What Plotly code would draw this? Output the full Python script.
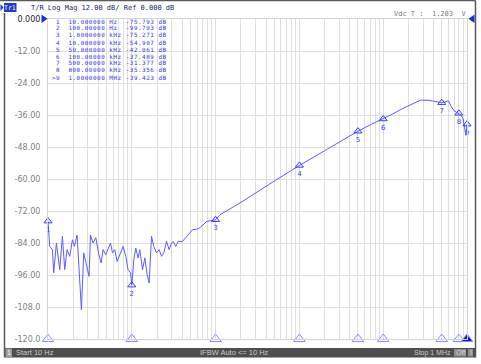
import plotly.graph_objects as go

# ---------------- data ----------------
freq_hz = [
    10, 10.48, 11.29, 11.70, 12.60, 13.80, 14.86, 15.83, 16.87, 18.17, 19.56, 20.68,
    22.21, 23.46, 25.06, 26.70, 28.76, 30.89, 32.11, 34.47, 37.14, 40.03, 42.98,
    45.41, 48.91, 52.12, 55.67, 58.82, 62.66, 66.74, 71.89, 78.75, 84.80, 90.32,
    96.5, 100, 105.7, 111.6, 118.9, 124.6, 134.2, 143.0, 152.3, 160.9, 171.9,
    183.2, 197.3, 212.0, 226.3, 241.2, 259.8, 279.0, 298.1, 311.5, 335.6, 357.5,
    403.4, 450.3, 493.2, 531.2, 592.9, 636.8, 711.0, 780.6, 895.9, 1000,
    1130, 2000, 5000, 10000, 20000, 30000, 50000, 70000, 100000, 130000, 170000,
    220000, 280000, 350000, 400000, 450000, 500000, 550000, 600000, 650000,
    700000, 750000, 800000, 850000, 900000, 940000, 970000, 1000000,
]
mag_db = [
    -75.79, -85.3, -86.5, -95.2, -84.0, -94.0, -81.5, -94.0, -86.5, -89.0, -82.8, -85.3,
    -81.0, -92.7, -109.0, -87.7, -92.7, -96.5, -81.0, -84.0, -82.0, -87.7, -91.5,
    -86.5, -88.4, -85.9, -84.0, -87.7, -86.5, -90.9, -88.4, -85.3, -89.0, -94.0,
    -95.2, -99.79, -90.2, -85.9, -89.6, -86.5, -94.0, -89.6, -95.8, -99.0, -81.5,
    -85.3, -87.7, -86.5, -89.0, -87.7, -83.4, -86.5, -84.0, -83.4, -85.3, -83.4,
    -83.4, -81.5, -80.3, -79.0, -78.8, -78.4, -77.2, -75.9, -75.6, -75.27,
    -73.4, -68.8, -60.8, -54.91, -49.4, -46.1, -42.06, -39.7, -37.49, -35.6, -33.6,
    -32.0, -30.4, -30.5, -30.8, -31.2, -31.38, -31.1, -30.7, -32.9,
    -34.4, -35.0, -35.36, -36.0, -37.5, -41.0, -43.6, -39.42,
]

marker_labels = ["1", "2", "3", "4", "5", "6", "7", "8", "9"]
marker_freq_hz = [10, 100, 1e3, 1e4, 5e4, 1e5, 5e5, 8e5, 1e6]
marker_db = [-75.793, -99.793, -75.271, -54.907, -42.061, -37.489, -31.377, -35.356, -39.423]
marker_freq_text = ["10.000000", "100.00000", "1.0000000", "10.000000", "50.000000",
                    "100.00000", "500.00000", "800.00000", "1.0000000"]
marker_unit = ["Hz", "Hz", "kHz", "kHz", "kHz", "kHz", "kHz", "kHz", "MHz"]

ytick_vals = [-120, -108, -96, -84, -72, -60, -48, -36, -24, -12, 0]
ytick_text = ["-120.0", "-108.0", "-96.00", "-84.00", "-72.00", "-60.00",
              "-48.00", "-36.00", "-24.00", "-12.00",
              "<span style='color:#222222'>0.000</span>"]

header_text = "T/R Log Mag 12.00 dB/ Ref 0.000 dB"
vdc_text = "Vdc T :  1.203  V"
start_text = "Start 10 Hz"
ifbw_text = "IFBW Auto <= 10 Hz"
stop_text = "Stop 1 MHz"

# ---------------- layout helpers ----------------
W, H = 481, 364
L, R, T, B = 48, 467, 19, 339


def px(x):
    return (x - L) / (R - L)


def py(y):
    return (B - y) / (B - T)


NB = "\u00a0"
TRACE = "#5c5cff"
MK = "#3a3aff"
MONO = "DejaVu Sans Mono"

fig = go.Figure()

fig.add_trace(go.Scatter(
    x=freq_hz, y=mag_db, mode="lines",
    line=dict(color=TRACE, width=1), hoverinfo="skip", showlegend=False,
))

# trace markers
fig.add_trace(go.Scatter(
    x=marker_freq_hz, y=marker_db, mode="markers+text",
    marker=dict(symbol="triangle-up-open", size=7, color=MK, line=dict(width=1, color=MK)),
    text=marker_labels, textposition="bottom center",
    textfont=dict(family="DejaVu Sans", size=7, color=MK),
    cliponaxis=False, showlegend=False, hoverinfo="skip",
))

# bottom marker position triangles
bottom_colors = ["rgba(0,0,0,0)"] * (len(marker_freq_hz) - 1) + ["#1010d0"]
fig.add_trace(go.Scatter(
    x=marker_freq_hz, y=[-120] * len(marker_freq_hz), mode="markers",
    marker=dict(symbol="triangle-up", size=10, color=bottom_colors,
                line=dict(width=1, color="#8c8cff")),
    cliponaxis=False, showlegend=False, hoverinfo="skip",
))

# log grid lines
grid_x = [d * 10 ** k for k in range(1, 6) for d in range(1, 10)] + [1e6]

fig.update_xaxes(
    type="log", range=[1, 6], tickvals=grid_x, showticklabels=False,
    showgrid=True, gridcolor="#dedede", gridwidth=1, ticks="",
    showline=True, mirror=True, linecolor="#d4d4d4", zeroline=False,
)
fig.update_yaxes(
    range=[-120, 0], tickvals=ytick_vals, ticktext=ytick_text,
    tickfont=dict(family="DejaVu Sans", size=8, color="#808080"),
    ticks="outside", ticklen=5, tickcolor="rgba(0,0,0,0)",
    showgrid=True, gridcolor="#dedede", gridwidth=1,
    showline=True, mirror=True, linecolor="#d4d4d4", zeroline=False,
)

shapes = []
ann = []

# frame
for x0, y0, x1, y1 in [(0, 0.5, 475.5, 0.5), (475.5, 0.5, 475.5, 357.5), (4.5, 13, 4.5, 357.5)]:
    shapes.append(dict(type="line", xref="paper", yref="paper",
                       x0=px(x0), y0=py(y0), x1=px(x1), y1=py(y1),
                       line=dict(color="#5a5a5a", width=1.5)))

# status bar
shapes.append(dict(type="rect", xref="paper", yref="paper",
                   x0=px(5), y0=py(348), x1=px(475.5), y1=py(357.5),
                   fillcolor="#4e4e4e", line=dict(width=0)))
shapes.append(dict(type="rect", xref="paper", yref="paper",
                   x0=px(5.5), y0=py(348.5), x1=px(12), y1=py(357),
                   fillcolor="#9a9a9a", line=dict(width=0)))
shapes.append(dict(type="rect", xref="paper", yref="paper",
                   x0=px(454), y0=py(349), x1=px(466), y1=py(356.5),
                   fillcolor="#8e8e8e", line=dict(width=0)))
shapes.append(dict(type="rect", xref="paper", yref="paper",
                   x0=px(468), y0=py(349), x1=px(473), y1=py(356.5),
                   fillcolor="#8e8e8e", line=dict(width=0)))

# Tr1 box
shapes.append(dict(type="rect", xref="paper", yref="paper",
                   x0=px(4), y0=py(3), x1=px(16.5), y1=py(12),
                   fillcolor="#1e3cc8", line=dict(width=0)))


def tri(points, color):
    p = "M " + " L ".join(f"{px(a)},{py(b)}" for a, b in points) + " Z"
    return dict(type="path", xref="paper", yref="paper", path=p,
                fillcolor=color, line=dict(width=0))


shapes.append(tri([(0.5, 4), (3.5, 7.5), (0.5, 11)], "#1e3cc8"))
shapes.append(tri([(41.5, 14.5), (47.5, 18.8), (41.5, 23)], "#1030e0"))
shapes.append(tri([(474.5, 14.5), (468.5, 18.8), (474.5, 23)], "#1030e0"))


def text(x, y, s, size=7, color="#000", family=MONO, xanchor="left", yanchor="middle", pad=1):
    ann.append(dict(xref="paper", yref="paper", x=px(x), y=py(y), text=s,
                    showarrow=False, xanchor=xanchor, yanchor=yanchor, borderpad=pad,
                    font=dict(family=family, size=size, color=color)))


text(10.3, 7.8, "Tr1", size=6.5, color="#ffffff", xanchor="center", pad=0)
text(29, 7.8, header_text.replace(" ", NB), size=7, color="#22226e")
text(391.5, 14.5, vdc_text.replace(" ", NB), size=7, color="#7a7a7a")

# marker table
for i in range(len(marker_labels)):
    num = (">" + marker_labels[i]) if i == len(marker_labels) - 1 else (" " + marker_labels[i])
    line = f"{num}  {marker_freq_text[i]} {marker_unit[i]:<3} {marker_db[i]:.3f} dB"
    styled = "<span style='letter-spacing:0.55px'>" + line.replace(" ", NB) + "</span>"
    text(51, 21.5 + i * 7.0, styled, size=5.9, color="#3434e6", pad=0)

# status bar texts
SB = "#c9c9c9"
text(8.7, 352.8, "1", size=7, color="#ffffff", family="Liberation Sans", xanchor="center", pad=0)
text(15, 352.8, start_text, size=7.5, color=SB, family="Liberation Sans", pad=0)
text(234, 352.8, ifbw_text, size=7.5, color=SB, family="Liberation Sans", xanchor="center", pad=0)
text(451.5, 352.8, stop_text, size=7, color=SB, family="Liberation Sans", xanchor="right", pad=0)
text(460, 352.8, "Off", size=7, color="#d0d0d0", family="Liberation Sans", xanchor="center", pad=0)
text(470.5, 352.8, "!", size=7, color="#e0e0e0", family="Liberation Sans", xanchor="center", pad=0)

fig.update_layout(
    width=W, height=H,
    margin=dict(l=L, r=W - R, t=T, b=H - B, pad=0),
    paper_bgcolor="#ffffff", plot_bgcolor="#ffffff",
    shapes=shapes, annotations=ann, showlegend=False,
)

fig.write_html("out.html")
